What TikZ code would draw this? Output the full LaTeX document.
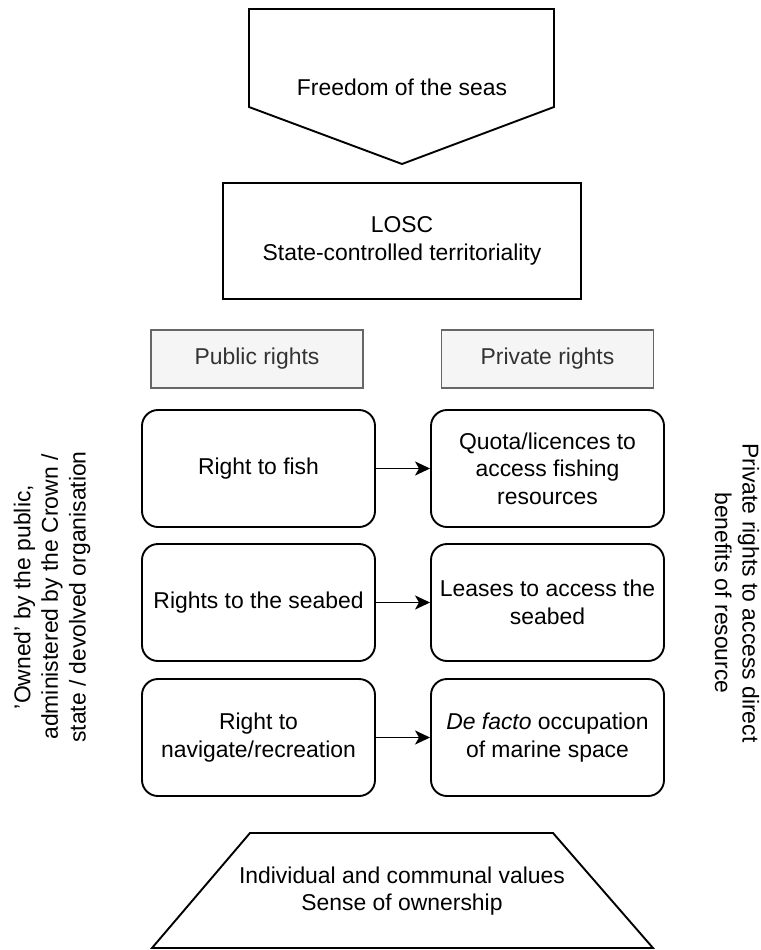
\documentclass[tikz,border=0pt]{standalone}
\usepackage{fontspec}
\setmainfont{Liberation Sans}
\usetikzlibrary{arrows.meta}

\definecolor{headfill}{HTML}{F5F5F5}
\definecolor{headline}{HTML}{666666}
\definecolor{headtext}{HTML}{333333}

\begin{document}
\begin{tikzpicture}[x=1bp, y=-1bp,
  lbl/.style={font=\fontsize{22.9bp}{27.6bp}\selectfont, align=center, inner sep=0pt},
  shapeline/.style={draw=black, line width=1.9bp, line join=miter},
  headbox/.style={lbl, draw=headline, fill=headfill, text=headtext, line width=1.9bp,
    minimum width=212bp, minimum height=58bp},
  rightsbox/.style={lbl, draw=black, fill=white, line width=1.9bp, rounded corners=16bp,
    minimum width=233bp, minimum height=117bp},
  arr/.style={line width=1.9bp, -{Stealth[length=15bp, width=14bp, inset=4bp]}}
]
\useasboundingbox (0,0) rectangle (761,950);

% top: freedom of the seas (off-page pointer shape)
\draw[shapeline] (249,9) -- (554,9) -- (554,107) -- (402,164) -- (249,107) -- cycle;
\node[lbl] (freedom) at (402,87) {Freedom of the seas};

% LOSC box
\node[lbl, draw=black, line width=1.9bp, minimum width=358bp, minimum height=116bp]
  (losc) at (402,241) {LOSC\\State-controlled territoriality};

% column headers
\node[headbox] (public) at (257,359) {Public rights};
\node[headbox] (private) at (547.5,359) {Private rights};

% public rights
\node[rightsbox] (fish) at (258.5,468.5) {Right to fish};
\node[rightsbox] (seabed) at (258.5,602.5) {Rights to the seabed};
\node[rightsbox] (navigate) at (258.5,737.5) {Right to\\navigate/recreation};

% private rights
\node[rightsbox] (quota) at (547.5,468.5) {Quota/licences to\\access fishing\\resources};
\node[rightsbox] (leases) at (547.5,602.5) {Leases to access the\\seabed};
\node[rightsbox] (defacto) at (547.5,737.5) {\textit{De facto} occupation\\of marine space};

% connectors
\draw[arr] (fish) -- (quota);
\draw[arr] (seabed) -- (leases);
\draw[arr] (navigate) -- (defacto);

% side labels
\node[lbl, rotate=90] (ownedlabel) at (52,597)
  {'Owned' by the public,\\administered by the Crown /\\state / devolved organisation};
\node[lbl, rotate=-90] (privatelabel) at (737,593)
  {Private rights to access direct\\benefits of resource};

% bottom trapezoid
\draw[shapeline] (250,833) -- (553,833) -- (653,948) -- (152,948) -- cycle;
\node[lbl] (values) at (402,891) {Individual and communal values\\Sense of ownership};
\end{tikzpicture}
\end{document}
